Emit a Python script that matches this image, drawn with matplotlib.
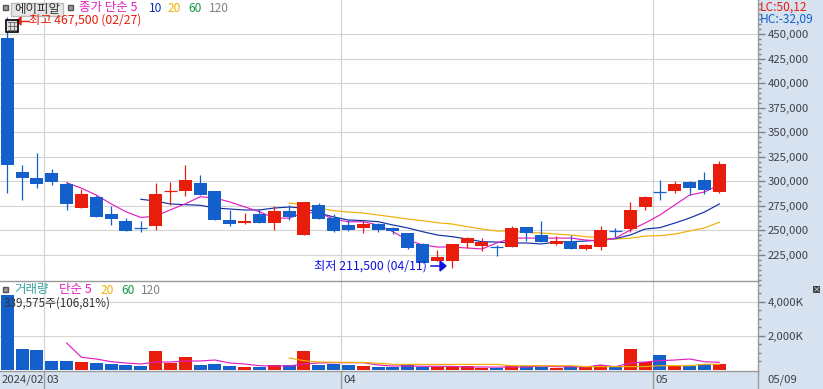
import matplotlib
matplotlib.use('Agg')
import matplotlib.pyplot as plt
from matplotlib.patches import Rectangle, FancyBboxPatch
from matplotlib.ticker import FixedLocator, MultipleLocator
import numpy as np

plt.rcParams['font.family'] = ['Noto Sans CJK KR', 'DejaVu Sans']

# Daily candles
opens = [446000, 309500, 303500, 308500, 297500, 273000, 284000, 266500, 259500, 252000,
         254500, 290000, 290000, 298500, 290000, 260500, 257500, 266500, 257500, 270000,
         245500, 276000, 262500, 255500, 252500, 256500, 252500, 247500, 236500, 219000,
         219000, 237500, 234500, 233500, 233500, 253500, 245500, 236500, 239500, 231500,
         233500, 249500, 251500, 274000, 289000, 290000, 299500, 301500, 289000]
highs = [467500, 316500, 328500, 312500, 299500, 292500, 286000, 275000, 262500, 259500,
         298500, 299500, 316500, 306500, 290000, 271000, 268000, 272000, 275000, 276000,
         279000, 278000, 266500, 260500, 259500, 257500, 253500, 247500, 237500, 230500,
         236500, 243500, 242500, 235500, 254500, 253500, 259500, 244500, 245500, 236500,
         254500, 252500, 279000, 285000, 301500, 300500, 300500, 309500, 320500]
lows = [288500, 281000, 293000, 296500, 271000, 273000, 263500, 255500, 249500, 248500,
        250500, 276000, 285000, 286000, 260500, 254500, 256500, 257500, 250500, 260500,
        245500, 261500, 248500, 249500, 247500, 248500, 246500, 231500, 217000, 219000,
        211500, 232500, 229500, 224000, 233500, 239500, 238500, 235500, 231500, 230500,
        230500, 243500, 248500, 271000, 281000, 288000, 286000, 287000, 288000]
closes = [317000, 303500, 297500, 299500, 277000, 287000, 263500, 261500, 249500, 251500,
          287000, 290500, 301500, 286000, 260500, 256500, 259500, 257500, 270000, 263500,
          279000, 261500, 249500, 250500, 256500, 250500, 249500, 232500, 217000, 223000,
          236500, 242500, 238500, 233000, 252500, 247500, 238500, 239500, 231500, 235500,
          250500, 249000, 271000, 284000, 288500, 297500, 293000, 291000, 317500]

# Price moving averages
ma5 = [298500, 293000, 286000, 277000, 269000, 263200, 264500, 271000, 277000, 284300,
       283000, 279000, 274000, 269000, 262500, 262500, 268000, 268000, 261500, 258800,
       258800, 255500, 248700, 240200, 235200, 233100, 233100, 232100, 231100, 237200,
       242200, 242200, 242200, 242200, 242200, 240200, 239200, 242200, 250400, 257500,
       265700, 275900, 286000, 289100, 296200]
ma10 = [281700, 279900, 276900, 276200, 275600, 272800, 271800, 270800, 270800, 272800,
        273800, 272800, 267700, 263700, 260600, 259900, 258900, 255500, 252500, 248700,
        245300, 243600, 241300, 238500, 238200, 237200, 237200, 236200, 238200, 238500,
        239200, 240200, 241600, 245300, 251400, 252800, 257500, 262600, 268700, 276900]
ma20 = [277900, 275900, 272800, 270100, 268700, 267700, 265700, 263700, 261600, 259900,
        257800, 256500, 253800, 251400, 249400, 249400, 247700, 247400, 246300, 245300,
        243600, 242600, 241300, 242000, 244300, 244600, 246300, 249400, 252500, 258300]

# Volume, in thousands of shares
volume = [4412, 1235, 1176, 529, 529, 470, 412, 353, 294, 235,
          1118, 412, 765, 294, 353, 235, 176, 176, 294, 294,
          1118, 294, 353, 294, 235, 176, 176, 294, 176, 176,
          176, 235, 118, 118, 235, 235, 176, 118, 235, 176,
          294, 176, 1235, 470, 882, 235, 235, 353, 340]
vol_ma5 = [1588, 747, 647, 488, 412, 353, 470, 470, 529, 529,
           588, 412, 353, 253, 235, 235, 353, 412, 429, 429,
           429, 294, 235, 235, 218, 218, 212, 176, 176, 170,
           170, 176, 235, 194, 194, 176, 294, 194, 412, 470,
           547, 588, 647, 488, 453]
vol_ma20 = [706, 547, 470, 453, 450, 440, 394, 335, 330, 330,
            330, 330, 330, 330, 330, 253, 250, 250, 250, 253,
            194, 200, 200, 200, 200, 253, 253, 253, 335, 335]

price_ticks = [225000, 250000, 275000, 300000, 325000, 350000, 375000, 400000, 425000, 450000]
price_labels = ['225,000', '250,000', '275,000', '300,000', '325,000', '350,000', '375,000',
                '400,000', '425,000', '450,000']
vol_ticks = [2000, 4000]
vol_labels = ['2,000K', '4,000K']
month_grid = [2.5, 22.5, 43.5]
date_labels = ['2024/02', '03', '04', '05', '05/09']

W, H = 823, 389
BLUE = '#1360CC'
RED = '#E81D0B'
MAGENTA = '#E020C0'
NAVY = '#1030A8'
ORANGE = '#F0AE00'
GREEN = '#129848'
GREY = '#808080'
GRID = '#D4D4D4'
PANEL = '#D6E2F0'
INK = '#404048'


def fx(x):
    return x / W


def fy(y):
    return 1 - y / H


fig = plt.figure(figsize=(W / 100, H / 100), dpi=100, facecolor=PANEL)
ax = fig.add_axes([0, fy(281), fx(758), 281 / H])
ax2 = fig.add_axes([0, fy(371), fx(758), 90 / H])

n = len(opens)
xs = np.arange(n)
x_left = -7.3 / 14.833
x_right = (758 - 7.3) / 14.833
is_up = np.array(closes) >= np.array(opens)
colors = [RED if u else BLUE for u in is_up]
body_w = 0.877

# candles
for i in range(n):
    ax.vlines(i, lows[i], highs[i], color=colors[i], lw=0.9, zorder=3)
    top = max(opens[i], closes[i])
    bot = min(opens[i], closes[i])
    if top - bot < 1000:
        ax.hlines(top, i - body_w / 2, i + body_w / 2, color=colors[i], lw=0.9, zorder=3)
    else:
        ax.bar(i, top - bot, bottom=bot, width=body_w, color=colors[i], zorder=3)

ax.plot(xs[n - len(ma20):], ma20, color=ORANGE, lw=0.85, zorder=2)
ax.plot(xs[n - len(ma10):], ma10, color=NAVY, lw=0.85, zorder=2)
ax.plot(xs[n - len(ma5):], ma5, color=MAGENTA, lw=0.85, zorder=2)

ax.set_xlim(x_left, x_right)
ax.set_ylim(198502, 484560)
ax.set_yticks(price_ticks)
ax.set_yticklabels(price_labels)
ax.yaxis.set_minor_locator(MultipleLocator(5000))

# volume
ax2.bar(xs, volume, width=body_w, color=colors, zorder=2)
ax2.plot(xs[n - len(vol_ma20):], vol_ma20, color=ORANGE, lw=0.85, zorder=4)
ax2.plot(xs[n - len(vol_ma5):], vol_ma5, color=MAGENTA, lw=0.85, zorder=3)
ax2.set_xlim(x_left, x_right)
ax2.set_ylim(-59, 5235)
ax2.set_yticks(vol_ticks)
ax2.set_yticklabels(vol_labels)
ax2.yaxis.set_minor_locator(FixedLocator([500, 1000, 1500, 2500, 3000, 3500, 4500, 5000]))

for a in (ax, ax2):
    a.set_facecolor('white')
    a.yaxis.tick_right()
    a.tick_params(axis='y', which='major', length=5, width=1, color=GREY,
                  labelcolor=INK, labelsize=8.2, pad=2)
    a.tick_params(axis='y', which='minor', length=2.5, width=1, color=GREY)
    a.grid(axis='y', color=GRID, lw=0.8, zorder=0)
    a.set_axisbelow(True)
    for s in ('left', 'top'):
        a.spines[s].set_visible(False)
    for s in ('right', 'top', 'bottom'):
        a.spines[s].set_color('#999999')
        a.spines[s].set_linewidth(1)
    a.set_xticks(month_grid)
    a.grid(axis='x', color=GRID, lw=0.9, zorder=0)
ax.spines['bottom'].set_visible(False)
ax.tick_params(axis='x', length=0, labelbottom=False)
ax2.spines['top'].set_visible(True)
ax2.tick_params(axis='x', length=13, width=1, color='#999999', labelbottom=False)


def label(x, y, s, color, size=8.2, ha='left'):
    fig.text(fx(x), fy(y), s, color=color, fontsize=size, ha=ha, va='center', zorder=20)


def box(x, y, w, h, face, edge='none', lw=1):
    fig.add_artist(Rectangle((fx(x), fy(y + h)), w / W, h / H, transform=fig.transFigure,
                             facecolor=face, edgecolor=edge, lw=lw, zorder=18))


# header of the price panel
box(3, 5, 5, 5, '#999999', '#555555')
box(10.5, 2.5, 53, 13.5, '#E6E6E6', '#BBBBBB')
box(67.5, 5, 5, 5, '#999999', '#555555')
label(14, 9, '에이피알', '#333333', 9)
label(79, 8, '종가 단순 5', MAGENTA, 9)
label(149, 8, '10', NAVY, 8.6)
label(168, 8, '20', ORANGE, 8.6)
label(188, 8, '60', GREEN, 8.6)
label(209, 8, '120', GREY, 8.6)
label(29, 20, '최고 467,500 (02/27)', RED, 8.8)
fig.add_artist(plt.Line2D([fx(17), fx(29)], [fy(21), fy(21)], color=RED, lw=1, zorder=19))
fig.add_artist(plt.Polygon([[fx(17), fy(21)], [fx(21), fy(17)], [fx(21), fy(25)]],
                           transform=fig.transFigure, color=RED, zorder=19))

# table icon
fig.add_artist(FancyBboxPatch((fx(6), fy(32)), 12 / W, 12 / H, boxstyle='round,pad=0',
                              transform=fig.transFigure, facecolor='#E8E8E8',
                              edgecolor='black', lw=1.2, zorder=19))
for gx in (10, 14):
    fig.add_artist(plt.Line2D([fx(gx), fx(gx)], [fy(22), fy(30)], color='#777777', lw=0.8, zorder=20))
for gy in (22, 26, 30):
    fig.add_artist(plt.Line2D([fx(8), fx(16)], [fy(gy), fy(gy)], color='#777777', lw=0.8, zorder=20))

label(760, 7, 'LC:50,12', RED, 8.6)
label(760, 19, 'HC:-32,09', BLUE, 8.6)

# low marker
label(314, 266, '최저 211,500 (04/11)', '#1010E0', 8.8)
fig.add_artist(plt.Line2D([fx(431), fx(441)], [fy(266), fy(266)], color='#1010E0', lw=1.1, zorder=19))
fig.add_artist(plt.Polygon([[fx(446), fy(266)], [fx(440), fy(261)], [fx(440), fy(271)]],
                           transform=fig.transFigure, color='#1010E0', zorder=19))

# header of the volume panel
box(3, 287, 5, 5, '#999999', '#555555')
label(14, 290, '거래량', '#35A0A0', 9)
label(59, 290, '단순 5', MAGENTA, 9)
label(101, 290, '20', ORANGE, 8.6)
label(121, 290, '60', GREEN, 8.6)
label(141, 290, '120', GREY, 8.6)
label(4, 303, '339,575주(106,81%)', '#333333', 8.4)

# small button on the right
box(813, 286, 7, 7, '#444444')
label(816.5, 289, '×', 'white', 5.5, ha='center')

# date strip
label(2, 380, date_labels[0], INK)
label(46, 380, date_labels[1], INK)
label(343, 380, date_labels[2], INK)
label(655, 380, date_labels[3], INK)
label(767, 380, date_labels[4], INK)
fig.add_artist(plt.Line2D([fx(758), fx(758)], [fy(371), fy(389)], color='#999999', lw=1, zorder=10))

fig.savefig('out.png', dpi=100, facecolor=PANEL)
